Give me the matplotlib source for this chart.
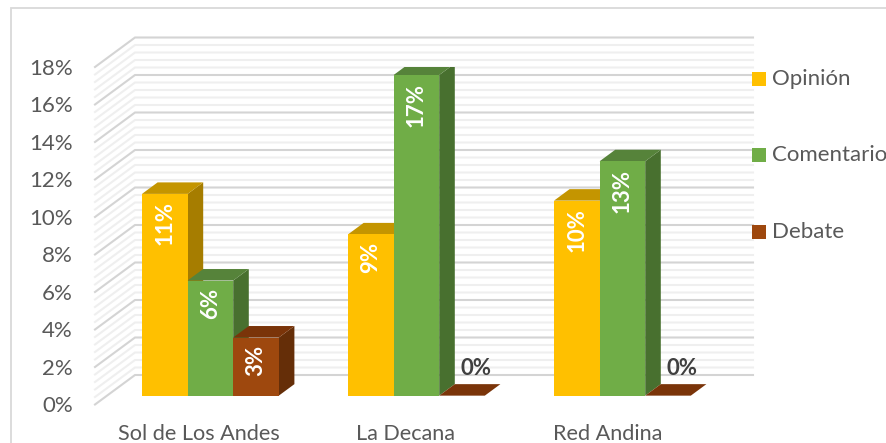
import matplotlib
matplotlib.use('Agg')
import matplotlib.pyplot as plt
from matplotlib.patches import Polygon, Rectangle

categories = ['Sol de Los Andes', 'La Decana', 'Red Andina']
series = ['Opinión', 'Comentario', 'Debate']
opinion = [10.76, 8.6, 10.4]
comentario = [6.14, 17.1, 12.5]
debate = [3.1, 0, 0]
labels = [['11%', '9%', '10%'], ['6%', '17%', '13%'], ['3%', '0%', '0%']]
yticks = list(range(0, 20, 2))

front = ['#FFC000', '#70AD47', '#9E480E']
top = ['#C49500', '#56833A', '#7A3409']
side = ['#A67D00', '#48702F', '#652E08']
gray = '#595959'

W, H = 886, 443
fig = plt.figure(figsize=(W / 100, H / 100), dpi=100)
fig.patch.set_facecolor('white')
plt.rcParams['font.family'] = ['Lato', 'DejaVu Sans']

# axes box = front axis, x unit is one category
ax = fig.add_axes([95 / W, 1 - 404.5 / H, 618 / W, 337.5 / H])
ax.set_xlim(0, 3)
ax.set_ylim(0, 18)
ax.axis('off')

# depth 1 = back wall
DX = 40 / 206
DY = 29.5 / 18.75


def proj(x, v, d):
    return (x + d * DX, v + d * DY)


# gridlines, wall and back
for i in range(46):
    v = i * 0.4
    major = i % 5 == 0
    c = '#D4D4D4' if major else '#EFEFEF'
    xs, ys = zip(proj(0, v, 0), proj(0, v, 1), proj(3, v, 1))
    ax.plot(xs, ys, color=c, lw=1.5, zorder=2 if major else 1, clip_on=False,
            solid_joinstyle='miter')

# chart frame
fig.add_artist(Rectangle((11 / W, -20 / H), 900 / W, (435 + 20) / H, fill=False,
                         ec='#D9D9D9', lw=1.3, transform=fig.transFigure))

# bars
bar_w = 45.6 / 206
d0, d1 = 0.3, 0.69
starts = [(142 - 95) / 206 - d0 * DX + k for k in range(3)]
values = [opinion, comentario, debate]
for s in range(3):
    for k in range(3):
        x0 = starts[k] + s * bar_w
        x1 = x0 + bar_w
        v = values[s][k]
        ax.add_patch(Polygon([proj(x1, 0, d0), proj(x1, 0, d1), proj(x1, v, d1), proj(x1, v, d0)],
                             fc=side[s], ec='none', zorder=3 + s))
        ax.add_patch(Polygon([proj(x0, v, d0), proj(x1, v, d0), proj(x1, v, d1), proj(x0, v, d1)],
                             fc=top[s], ec='none', zorder=3 + s))
        ax.add_patch(Polygon([proj(x0, 0, d0), proj(x1, 0, d0), proj(x1, v, d0), proj(x0, v, d0)],
                             fc=front[s], ec='none', zorder=3 + s))
        if v > 0:
            cx, cy = proj((x0 + x1) / 2, v - 0.4, d0)
            ax.text(cx, cy, labels[s][k], color='white', fontsize=16, fontweight='bold',
                    rotation=90, ha='center', va='top', zorder=10)
        else:
            cx, cy = proj((x0 + x1) / 2 + 0.068, 1.44, d0)
            ax.text(cx, cy, labels[s][k], color='#404040', fontsize=16, fontweight='bold',
                    ha='center', va='center', zorder=10)

# tick labels
for t in yticks:
    ax.text(-0.108, t - 0.09, '%d%%' % t, color=gray, fontsize=16, ha='right', va='center', clip_on=False)
for k, c in enumerate(categories):
    ax.text(k + [0.505, 0.505, 0.49][k], -1.55, c, color=gray, fontsize=15.6, ha='center', va='center', clip_on=False)

# legend
for s, y in zip(range(3), [79, 155, 232]):
    fig.add_artist(Rectangle((752 / W, 1 - (y + 7) / H), 14 / W, 14 / H, fc=front[s], ec='none',
                             transform=fig.transFigure))
    fig.text(772 / W, 1 - y / H, series[s], color=gray, fontsize=16, ha='left', va='center')

fig.savefig('out.png', dpi=100)
